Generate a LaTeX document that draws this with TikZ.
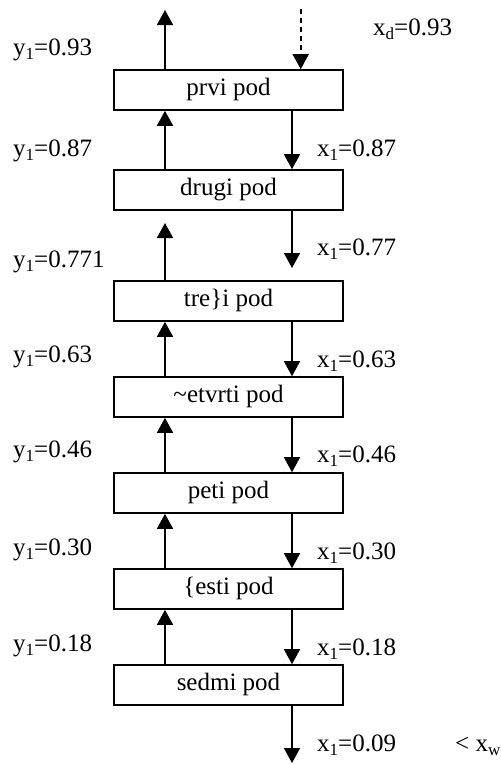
\documentclass[tikz,border=0pt]{standalone}
\usepackage{fontspec}
\setmainfont{Liberation Serif}
\usetikzlibrary{arrows.meta}
\newcommand\lowidx[1]{\raisebox{-4pt}{\fontsize{17}{17}\selectfont #1}}
\begin{document}
\begin{tikzpicture}[x=1pt,y=-1pt,
  pod/.style={draw, line width=1.6pt, minimum width=229pt, minimum height=40pt,
    inner sep=0pt, text height=17pt, text depth=6pt, font=\fontsize{25}{30}\selectfont},
  lbl/.style={anchor=base west, inner sep=0pt, font=\fontsize{25}{30}\selectfont},
  flow/.style={line width=1.6pt, -{Triangle[width=16pt,length=15pt]}},
  feed/.style={flow, dash pattern=on 5pt off 4pt}
]
\useasboundingbox (0,0) rectangle (501,764);
\node[pod] (b1) at (228.5,90) {prvi pod};
\node[pod] (b2) at (228.5,190) {drugi pod};
\node[pod] (b3) at (228.5,301) {tre\}i pod};
\node[pod] (b4) at (228.5,397) {\textasciitilde etvrti pod};
\node[pod] (b5) at (228.5,493) {peti pod};
\node[pod] (b6) at (228.5,589) {\{esti pod};
\node[pod] (b7) at (228.5,685) {sedmi pod};
\coordinate (L) at (165,0);
\coordinate (R) at (292,0);
\coordinate (D) at (300.7,0);
\coordinate (t1) at (165,10);
\coordinate (d0) at (300.7,9);
\coordinate (t3) at (165,223);
\coordinate (d2) at (292,268);
\coordinate (d7) at (292,763);
% up arrows
\draw[flow] (b1.north -| L) -- (t1);
\draw[flow] (b2.north -| L) -- (b1.south -| L);
\draw[flow] (b3.north -| L) -- (t3);
\draw[flow] (b4.north -| L) -- (b3.south -| L);
\draw[flow] (b5.north -| L) -- (b4.south -| L);
\draw[flow] (b6.north -| L) -- (b5.south -| L);
\draw[flow] (b7.north -| L) -- (b6.south -| L);
% down arrows
\draw[feed] (d0) -- (b1.north -| D);
\draw[flow] (b1.south -| R) -- (b2.north -| R);
\draw[flow] (b2.south -| R) -- (d2);
\draw[flow] (b3.south -| R) -- (b4.north -| R);
\draw[flow] (b4.south -| R) -- (b5.north -| R);
\draw[flow] (b5.south -| R) -- (b6.north -| R);
\draw[flow] (b6.south -| R) -- (b7.north -| R);
\draw[flow] (b7.south -| R) -- (d7);
% labels
\node[lbl] (ly1) at (13,55) {y\lowidx{1}=0.93};
\node[lbl] (ly2) at (13,156) {y\lowidx{1}=0.87};
\node[lbl] (ly3) at (13,267) {y\lowidx{1}=0.771};
\node[lbl] (ly4) at (13,362) {y\lowidx{1}=0.63};
\node[lbl] (ly5) at (13,457) {y\lowidx{1}=0.46};
\node[lbl] (ly6) at (13,555) {y\lowidx{1}=0.30};
\node[lbl] (ly7) at (13,651) {y\lowidx{1}=0.18};
\node[lbl] (lxd) at (373,35) {x\lowidx{d}=0.93};
\node[lbl] (lx1) at (317,156) {x\lowidx{1}=0.87};
\node[lbl] (lx2) at (317,255) {x\lowidx{1}=0.77};
\node[lbl] (lx3) at (317,367) {x\lowidx{1}=0.63};
\node[lbl] (lx4) at (317,462) {x\lowidx{1}=0.46};
\node[lbl] (lx5) at (317,559) {x\lowidx{1}=0.30};
\node[lbl] (lx6) at (317,655) {x\lowidx{1}=0.18};
\node[lbl] (lx7) at (317,751) {x\lowidx{1}=0.09};
\node[lbl] (lxw) at (455,751) {< x\lowidx{w}};
\end{tikzpicture}
\end{document}
